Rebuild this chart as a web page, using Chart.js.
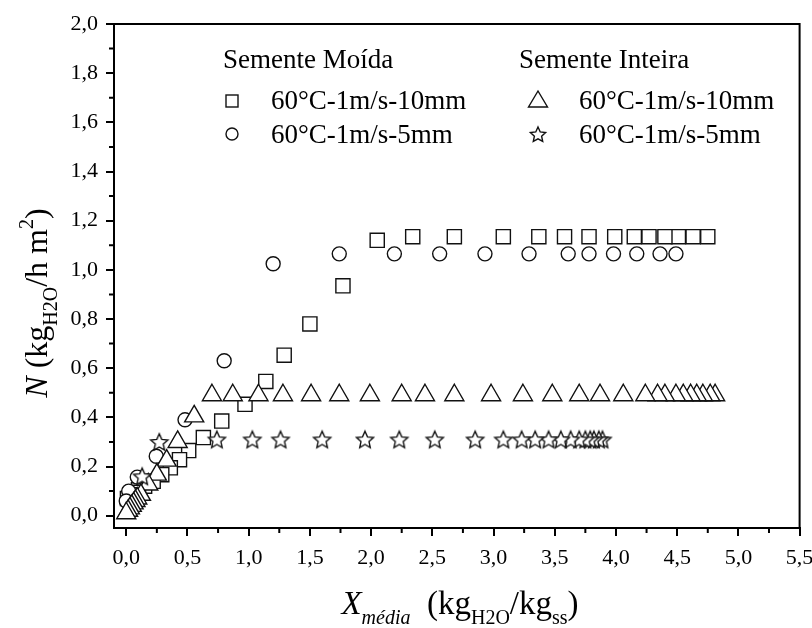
<!DOCTYPE html>
<html>
<head>
<meta charset="utf-8">
<script src="https://cdn.jsdelivr.net/npm/chart.js@4/dist/chart.umd.min.js"></script>
<style>
  body { margin: 0; background: #fff; }
  #wrap { width: 812px; height: 628px; }
</style>
</head>
<body>
<div id="wrap"><canvas id="chart" width="812" height="628"></canvas></div>
<script>
// Drying rate N vs mean moisture X, listed in drying order (wet -> dry)

// Semente Moída 60°C-1m/s-10mm
const moida10X = [4.75, 4.63, 4.51, 4.40, 4.27, 4.15, 3.99, 3.78, 3.58, 3.37, 3.08, 2.68, 2.34,
  2.05, 1.77, 1.50, 1.29, 1.14, 0.97, 0.78, 0.63, 0.51, 0.435, 0.36, 0.29, 0.22, 0.15, 0.10, 0.06, 0.03, 0.01];
const moida10N = [1.135, 1.135, 1.135, 1.135, 1.135, 1.135, 1.135, 1.135, 1.135, 1.135, 1.135, 1.135, 1.135,
  1.12, 0.935, 0.78, 0.653, 0.546, 0.453, 0.385, 0.318, 0.265, 0.228, 0.195, 0.167, 0.14, 0.12, 0.105, 0.095, 0.085, 0.07];

// Semente Moída 60°C-1m/s-5mm
const moida5X = [4.49, 4.36, 4.17, 3.98, 3.78, 3.61, 3.29, 2.93, 2.56, 2.19, 1.74,
  1.20, 0.80, 0.48, 0.245, 0.09, 0.02, 0.0];
const moida5N = [1.065, 1.065, 1.065, 1.065, 1.065, 1.065, 1.065, 1.065, 1.065, 1.065, 1.065,
  1.025, 0.63, 0.39, 0.242, 0.157, 0.10, 0.06];

// Semente Inteira 60°C-1m/s-10mm
const inteira10X = [4.81, 4.77, 4.71, 4.66, 4.61, 4.55, 4.49, 4.40, 4.34, 4.24, 4.06, 3.87, 3.70,
  3.48, 3.24, 2.98, 2.68, 2.44, 2.25, 1.99, 1.74, 1.51, 1.28, 1.08, 0.87, 0.70,
  0.555, 0.42, 0.33, 0.25, 0.18, 0.12, 0.09, 0.075, 0.06, 0.045, 0.03, 0.015, 0.0];
const inteira10N = [0.49, 0.49, 0.49, 0.49, 0.49, 0.49, 0.49, 0.49, 0.49, 0.49, 0.49, 0.49, 0.49,
  0.49, 0.49, 0.49, 0.49, 0.49, 0.49, 0.49, 0.49, 0.49, 0.49, 0.49, 0.49, 0.49,
  0.404, 0.30, 0.224, 0.167, 0.127, 0.085, 0.07, 0.06, 0.05, 0.04, 0.03, 0.02, 0.01];

// Semente Inteira 60°C-1m/s-5mm
const inteira5X = [3.89, 3.86, 3.82, 3.79, 3.75, 3.70, 3.63, 3.55, 3.45, 3.34, 3.23, 3.08,
  2.85, 2.52, 2.23, 1.95, 1.60, 1.26, 1.03, 0.74, 0.27, 0.13];
const inteira5N = [0.31, 0.31, 0.31, 0.31, 0.31, 0.31, 0.31, 0.31, 0.31, 0.31, 0.31, 0.31,
  0.31, 0.31, 0.31, 0.31, 0.31, 0.31, 0.31, 0.31, 0.30, 0.16];

// axis ticks
const xMajor = [0, 0.5, 1, 1.5, 2, 2.5, 3, 3.5, 4, 4.5, 5, 5.5];
const xMinor = [0.25, 0.75, 1.25, 1.75, 2.25, 2.75, 3.25, 3.75, 4.25, 4.75, 5.25];
const yMajor = [0, 0.2, 0.4, 0.6, 0.8, 1.0, 1.2, 1.4, 1.6, 1.8, 2.0];
const yMinor = [0.1, 0.3, 0.5, 0.7, 0.9, 1.1, 1.3, 1.5, 1.7, 1.9];

const groupMoida = 'Semente Moída';
const groupInteira = 'Semente Inteira';
const label10 = '60°C-1m/s-10mm';
const label5 = '60°C-1m/s-5mm';

const SERIF = '"Liberation Serif", "Times New Roman", serif';
const INK = '#111';
const LW = 1.4;

function pts(xs, ys) {
  return xs.map((x, i) => ({ x: x, y: ys[i] }));
}

function starPath(g, cx, cy, ro, ri) {
  g.beginPath();
  for (let i = 0; i < 10; i++) {
    const a = -Math.PI / 2 + i * Math.PI / 5;
    const r = i % 2 ? ri : ro;
    const px = cx + Math.cos(a) * r, py = cy + Math.sin(a) * r;
    if (i === 0) g.moveTo(px, py); else g.lineTo(px, py);
  }
  g.closePath();
}

// star marker as an image, chart.js has no 5-point star
function makeStar(ro, ri) {
  const c = document.createElement('canvas');
  const s = Math.ceil(ro * 2 + 4);
  c.width = s; c.height = s;
  const g = c.getContext('2d');
  starPath(g, s / 2, s / 2 + 0.8, ro, ri);
  g.fillStyle = '#fff';
  g.fill();
  g.lineWidth = LW;
  g.strokeStyle = INK;
  g.stroke();
  return c;
}

const starImg = makeStar(9, 4.2);

function fmt(v) {
  return v.toFixed(1).replace('.', ',');
}

function richFont(p, size) {
  const s = (p.sub || p.sup) ? Math.round(size * 0.62) : size;
  return (p.italic ? 'italic ' : '') + s + 'px ' + SERIF;
}

function drawRich(ctx, parts, size, x, y) {
  let w = 0;
  parts.forEach(p => { ctx.font = richFont(p, size); w += ctx.measureText(p.t).width; });
  let cx = x - w / 2;
  parts.forEach(p => {
    ctx.font = richFont(p, size);
    const dy = p.sub ? size * 0.3 : (p.sup ? -size * 0.45 : 0);
    ctx.fillText(p.t, cx, y + dy);
    cx += ctx.measureText(p.t).width;
  });
}

const yTitle = [
  { t: 'N', italic: true }, { t: ' (kg' }, { t: 'H2O', sub: true },
  { t: '/h m' }, { t: '2', sup: true }, { t: ')' }
];
const xTitle = [
  { t: 'X', italic: true }, { t: 'média', italic: true, sub: true }, { t: '  (kg' },
  { t: 'H2O', sub: true }, { t: '/kg' }, { t: 'ss', sub: true }, { t: ')' }
];

// box, minor ticks, axis titles and the two-column legend
const decorPlugin = {
  id: 'decor',
  afterDraw(chart) {
    const ctx = chart.ctx;
    const a = chart.chartArea;
    const xs = chart.scales.x, ys = chart.scales.y;
    ctx.save();
    ctx.strokeStyle = '#000';
    ctx.lineWidth = 2;
    ctx.beginPath();
    ctx.moveTo(a.left, a.top); ctx.lineTo(a.right, a.top); ctx.lineTo(a.right, a.bottom);
    ctx.stroke();

    ctx.beginPath();
    xMinor.forEach(v => {
      const px = xs.getPixelForValue(v);
      ctx.moveTo(px, a.bottom); ctx.lineTo(px, a.bottom + 5);
    });
    yMinor.forEach(v => {
      const py = ys.getPixelForValue(v);
      ctx.moveTo(a.left, py); ctx.lineTo(a.left - 5, py);
    });
    ctx.stroke();

    ctx.fillStyle = '#000';
    ctx.textBaseline = 'alphabetic';
    ctx.textAlign = 'left';

    ctx.save();
    ctx.translate(47, 303);
    ctx.rotate(-Math.PI / 2);
    drawRich(ctx, yTitle, 32, 0, 0);
    ctx.restore();

    drawRich(ctx, xTitle, 33, 460, 614);

    // legend
    ctx.font = '27px ' + SERIF;
    ctx.fillText(groupMoida, 223, 68);
    ctx.fillText(groupInteira, 519, 68);
    ctx.fillText(label10, 271, 109);
    ctx.fillText(label5, 271, 143);
    ctx.fillText(label10, 579, 109);
    ctx.fillText(label5, 579, 143);

    ctx.strokeStyle = INK;
    ctx.lineWidth = LW;
    ctx.strokeRect(226, 95, 12, 12);
    ctx.beginPath();
    ctx.arc(232, 134, 6, 0, Math.PI * 2);
    ctx.stroke();
    ctx.beginPath();
    ctx.moveTo(538, 91); ctx.lineTo(547.5, 107); ctx.lineTo(528.5, 107);
    ctx.closePath();
    ctx.stroke();
    starPath(ctx, 538, 135, 8, 3.8);
    ctx.stroke();
    ctx.restore();
  }
};

const common = {
  showLine: false,
  borderColor: INK,
  backgroundColor: '#fff',
  borderWidth: LW,
  pointBorderWidth: LW
};

new Chart(document.getElementById('chart').getContext('2d'), {
  type: 'scatter',
  data: {
    datasets: [
      Object.assign({ label: label10, data: pts(moida10X, moida10N), pointStyle: 'rect', pointRadius: 10, order: 4 }, common),
      Object.assign({ label: label5, data: pts(moida5X, moida5N), pointStyle: 'circle', pointRadius: 7, order: 3 }, common),
      Object.assign({ label: label10, data: pts(inteira10X, inteira10N), pointStyle: 'triangle', pointRadius: 11, order: 2 }, common),
      Object.assign({ label: label5, data: pts(inteira5X, inteira5N), pointStyle: starImg, pointRadius: 9, order: 1 }, common)
    ]
  },
  options: {
    responsive: false,
    devicePixelRatio: 1,
    animation: false,
    layout: { padding: { left: 0, top: 24, right: 6, bottom: 0 } },
    plugins: { legend: { display: false }, tooltip: { enabled: false } },
    scales: {
      x: {
        type: 'linear',
        min: -0.1,
        max: 5.5,
        afterBuildTicks: s => { s.ticks = xMajor.map(v => ({ value: v })); },
        afterFit: s => { s.height = 100; s.paddingLeft = 0; s.paddingRight = 0; },
        grid: { drawOnChartArea: false, drawTicks: true, tickLength: 8, tickWidth: 2, lineWidth: 2, tickColor: '#000' },
        border: { display: true, width: 2, color: '#000' },
        ticks: { color: '#000', padding: 9, maxRotation: 0, autoSkip: false, font: { family: SERIF, size: 22 }, callback: v => fmt(v) }
      },
      y: {
        type: 'linear',
        min: -0.05,
        max: 2.0,
        afterBuildTicks: s => { s.ticks = yMajor.map(v => ({ value: v })); },
        afterFit: s => { s.width = 114; s.paddingTop = 0; s.paddingBottom = 0; },
        grid: { drawOnChartArea: false, drawTicks: true, tickLength: 8, tickWidth: 2, lineWidth: 2, tickColor: '#000' },
        border: { display: true, width: 2, color: '#000' },
        ticks: { color: '#000', padding: 8, autoSkip: false, font: { family: SERIF, size: 22 }, callback: v => fmt(v) }
      }
    }
  },
  plugins: [decorPlugin]
});
</script>
</body>
</html>
